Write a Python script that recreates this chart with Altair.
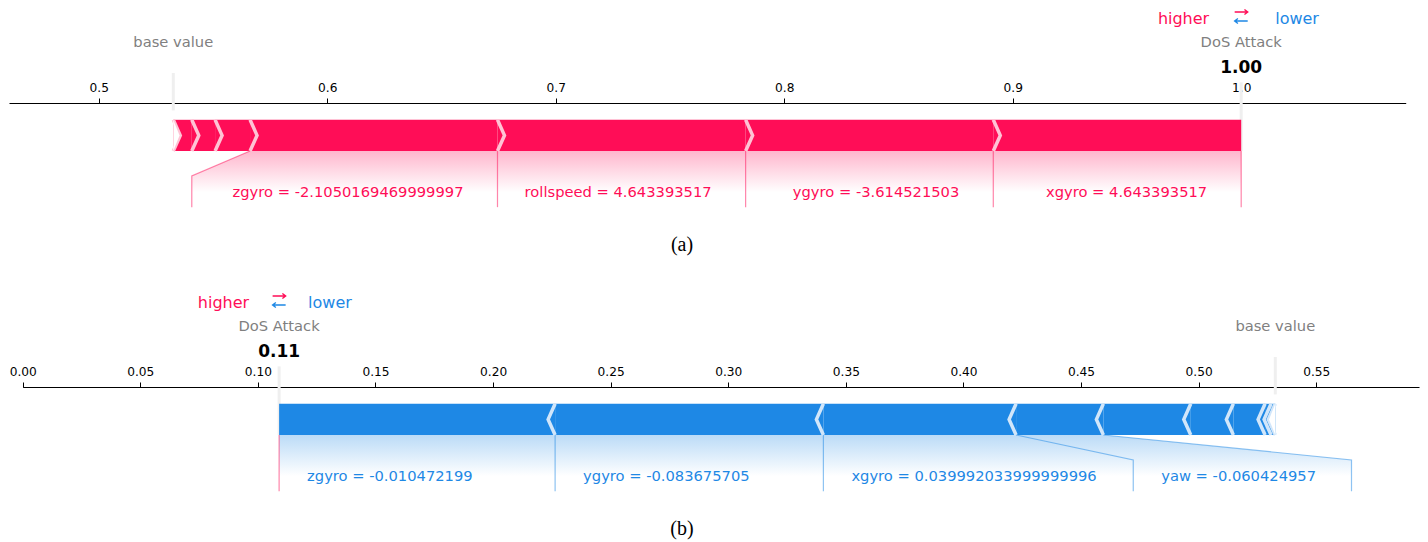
import altair as alt
import pandas as pd

FONT = "DejaVu Sans"
SERIF = "Liberation Serif"

RED, RED_SEP, RED_SHADE = "#FF0D57", "#FFC3D5", "#FFB6CD"
BLUE, BLUE_SEP, BLUE_SHADE = "#1E88E5", "#D1E6FA", "#BBDBF7"
GREY_TEXT = "#808080"
GUIDE_LINE = "#EFEFEF"

OUTPUT_NAME = "DoS Attack"

# Sample (a): SHAP contributions listed from the output value back toward the base value
A_BASE = 0.5326
A_SHAP = [0.1085, 0.1084, 0.1086, 0.1083, 0.0153, 0.0102, 0.0081]
A_FEATURES = ["xgyro", "ygyro", "rollspeed", "zgyro"]
A_FEATURE_VALUES = ["4.643393517", "-3.614521503", "4.643393517", "-2.1050169469999997"]
A_LABEL_EDGE = [None, None, None, 0.5407]   # label box edge when the text overruns its segment
A_TICKS = [0.5, 0.6, 0.7, 0.8, 0.9, 1.0]
A_XLIM = [0.4607, 1.0720]

# Sample (b)
B_BASE = 0.5326
B_SHAP = [-0.11735, -0.11407, -0.08193, -0.03712, -0.03716, -0.01811, -0.01348, -0.00255, -0.00180]
B_FEATURES = ["zgyro", "ygyro", "xgyro", "yaw"]
B_FEATURE_VALUES = ["-0.010472199", "-0.083675705", "0.039992033999999996", "-0.060424957"]
B_LABEL_EDGE = [None, None, 0.4722, 0.5650]
B_TICKS = [0.00, 0.05, 0.10, 0.15, 0.20, 0.25, 0.30, 0.35, 0.40, 0.45, 0.50, 0.55]
B_XLIM = [0.0, 0.5937]

# Layout: pixel geometry and the force plot's own vertical units
WIDTH = 1428
PX_PER_UNIT = 312
BAR_BOTTOM_PX = 151
AXIS_PX = 103
BAR_H = 0.1

# small arrow glyphs drawn as point shapes (unit box -1..1)
RIGHT_ARROW = "M -1 0 L 1 0 M 0.5 -0.38 L 1 0 L 0.5 0.38"
LEFT_ARROW = "M 1 0 L -1 0 M -0.5 -0.38 L -1 0 L -0.5 0.38"


def force_panel(base, shap, names, fvals, label_edges, ticks, tick_fmt, xlim, xrange,
                height, caption, arrow_dx, text_dx):
    out = base + sum(shap)
    up = out >= base
    sign = 1 if up else -1
    main, sep, shade = (RED, RED_SEP, RED_SHADE) if up else (BLUE, BLUE_SEP, BLUE_SHADE)
    indent = (xlim[1] - xlim[0]) / 200

    bounds = [out]
    for v in shap:
        bounds.append(bounds[-1] - v)

    top = BAR_BOTTOM_PX / PX_PER_UNIT
    yscale = alt.Scale(domain=[top - height / PX_PER_UNIT, top], nice=False, zero=False)
    xscale = alt.Scale(domain=xlim, range=xrange, nice=False, zero=False)
    xaxis = alt.Axis(orient="top", offset=-AXIS_PX, values=ticks, format=tick_fmt, title=None,
                     grid=False, labelFont=FONT, labelFontSize=12.2, labelColor="#000",
                     labelPadding=4, labelFlush=False, labelOverlap=False,
                     tickColor="#000", tickSize=5, tickWidth=1,
                     domainColor="#000", domainWidth=1.2)

    def X(f):
        return alt.X(f, type="quantitative", scale=xscale, axis=xaxis)

    def Y(f):
        return alt.Y(f, type="quantitative", scale=yscale, axis=None)

    # feature segments of the bar
    seg = pd.DataFrame({
        "lo": [min(bounds[i], bounds[i + 1]) for i in range(len(shap))],
        "hi": [max(bounds[i], bounds[i + 1]) for i in range(len(shap))],
        "y0": 0.0, "y1": BAR_H,
    })
    bars = alt.Chart(seg).mark_rect(color=main).encode(
        x=X("lo"), x2=alt.X2("hi"), y=Y("y1"), y2=alt.Y2("y0"))

    # chevron separators at the far edge of every segment
    rows = []
    for i in range(len(shap)):
        p = bounds[i + 1]
        for k, (ddx, yy) in enumerate([(0, 0), (sign * indent, BAR_H / 2), (0, BAR_H)]):
            rows.append({"sid": i, "k": k, "x": p + ddx, "y": yy})
    seps = alt.Chart(pd.DataFrame(rows)).mark_line(
        color=sep, strokeWidth=3.5, strokeJoin="miter", strokeCap="butt").encode(
        x=X("x"), y=Y("y"), detail="sid:N", order="k:Q")

    # notch cut into the bar at the base value
    nb = bounds[-1]
    notch = alt.Chart(pd.DataFrame({
        "x": [nb, nb + sign * 0.9 * indent], "y": [0, BAR_H / 2], "y2": [BAR_H, BAR_H / 2]
    })).mark_area(color="white").encode(x=X("x"), y=Y("y"), y2=alt.Y2("y2"))

    # label connector lines and label texts
    lrows, trows = [], []
    anchor = out
    for i, edge in enumerate(label_edges):
        trows.append({"x": anchor, "y": -0.135, "t": f"{names[i]} = {fvals[i]}"})
        v = bounds[i + 1]
        pts = [(v, 0), (v, -0.18)] if edge is None else [(v, 0), (edge, -0.08), (edge, -0.18)]
        for k, (xx, yy) in enumerate(pts):
            lrows.append({"lid": i, "k": k, "x": xx, "y": yy})
        anchor = v if edge is None else edge
    label_lines = alt.Chart(pd.DataFrame(lrows)).mark_line(
        color=main, opacity=0.5, strokeWidth=1.2).encode(
        x=X("x"), y=Y("y"), detail="lid:N", order="k:Q")
    out_line = alt.Chart(pd.DataFrame({"x": [out, out], "y": [0, -0.18]})).mark_line(
        color=RED, opacity=0.5, strokeWidth=1.2).encode(x=X("x"), y=Y("y"))
    label_text = alt.Chart(pd.DataFrame(trows)).mark_text(
        align="right" if up else "left", dx=text_dx, font=FONT, fontSize=14.7, color=main).encode(
        x=X("x"), y=Y("y"), text="t:N")

    # shaded region behind the labels
    kk = len(label_edges)
    pre = bounds[kk]
    last = label_edges[-1] if label_edges[-1] is not None else pre
    grad = alt.LinearGradient(
        gradient="linear",
        stops=[alt.GradientStop(color=shade, offset=0),
               alt.GradientStop(color="#FFFFFF", offset=0.66)],
        x1=0, x2=0, y1=0, y2=1)
    shading = alt.Chart(pd.DataFrame({
        "x": [out, pre, last], "y": [0, 0, -0.08], "y2": [-0.2, -0.2, -0.2]
    })).mark_area(color=grad).encode(x=X("x"), y=Y("y"), y2=alt.Y2("y2"))

    # guide lines for base and output values
    base_rule = alt.Chart(pd.DataFrame({"x": [base], "y": [0.13], "y2": [0.25]})).mark_rule(
        color=GUIDE_LINE, strokeWidth=3).encode(x=X("x"), y=Y("y"), y2=alt.Y2("y2"))
    out_rule = alt.Chart(pd.DataFrame({"x": [out], "y": [0.0], "y2": [0.22]})).mark_rule(
        color=GUIDE_LINE, strokeWidth=3).encode(x=X("x"), y=Y("y"), y2=alt.Y2("y2"))

    def note(x, y, text, **kw):
        d = pd.DataFrame({"x": [x], "y": [y], "t": [text]})
        return alt.Chart(d).mark_text(**kw).encode(x=X("x"), y=Y("y"), text="t:N")

    def arrow(x, y, path, color):
        d = pd.DataFrame({"x": [x], "y": [y]})
        return alt.Chart(d).mark_point(
            shape=path, size=170, filled=False, stroke=color, strokeWidth=1.4, opacity=1
        ).encode(x=X("x"), y=Y("y"))

    texts = [
        note(base, 0.345, "base value", font=FONT, fontSize=14.7, color=GREY_TEXT),
        note(out, 0.346, OUTPUT_NAME, font=FONT, fontSize=14.7, color=GREY_TEXT),
        note(out, 0.267, f"{out:.2f}", font=FONT, fontSize=17, fontWeight="bold", color="#000"),
        note(out, 0.424, "higher", font=FONT, fontSize=16, color=RED, align="right", dx=arrow_dx[0]),
        note(out, 0.424, "lower", font=FONT, fontSize=16, color=BLUE, align="left", dx=arrow_dx[1]),
        arrow(out, 0.4455, RIGHT_ARROW, RED),
        arrow(out, 0.4167, LEFT_ARROW, BLUE),
    ]
    cap = alt.Chart(pd.DataFrame({"y": [-0.30], "t": [caption]})).mark_text(
        font=SERIF, fontSize=20, color="#000", baseline="middle").encode(
        x=alt.value(682), y=Y("y"), text="t:N")

    return alt.layer(
        shading, label_lines, out_line, base_rule, out_rule, bars, seps, notch,
        label_text, *texts, cap
    ).properties(width=WIDTH, height=height)


panel_a = force_panel(A_BASE, A_SHAP, A_FEATURES, A_FEATURE_VALUES, A_LABEL_EDGE,
                      A_TICKS, ".1f", A_XLIM, [9, 1405.7], 284, "(a)", (-32, 34), -34)
panel_b = force_panel(B_BASE, B_SHAP, B_FEATURES, B_FEATURE_VALUES, B_LABEL_EDGE,
                      B_TICKS, ".2f", B_XLIM, [22.7, 1419], 258, "(b)", (-30, 29), 28)

chart = alt.vconcat(panel_a, panel_b, spacing=0, padding=0, background="white").configure_view(stroke=None)
chart.save("out.html", embed_options={"renderer": "svg", "actions": False})
